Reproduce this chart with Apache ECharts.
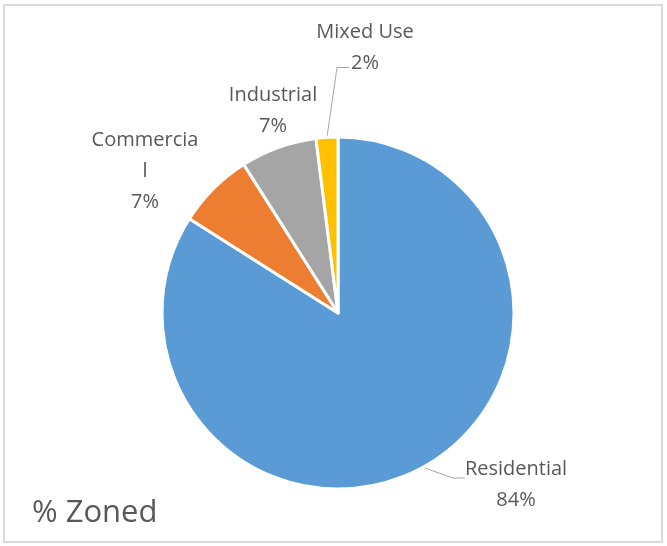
<!DOCTYPE html>
<html>
<head>
<meta charset="utf-8">
<script src="https://cdn.jsdelivr.net/npm/echarts@6/dist/echarts.min.js"></script>
<style>
  html, body { margin: 0; padding: 0; background: #fff; }
  #main { width: 667px; height: 546px; }
</style>
</head>
<body>
<div id="main"></div>
<script>
var categories = ['Residential', 'Commercial', 'Industrial', 'Mixed Use'];
var shares = [84, 7, 7, 2];
var colors = ['#5B9BD5', '#ED7D31', '#A5A5A5', '#FFC000'];
var chartTitle = '% Zoned';

// where Excel put each data label (centre of the text block)
var labelSpots = [
  { x: 516, y: 485, line: true },
  { x: 145, y: 171, line: false },
  { x: 273, y: 111, line: false },
  { x: 365, y: 48, line: true }
];

var myChart = echarts.init(document.getElementById('main'));

myChart.setOption({
  animation: false,
  textStyle: { fontFamily: 'Open Sans' },
  title: {
    text: chartTitle,
    left: 27,
    bottom: 12,
    textStyle: { fontSize: 31, fontWeight: 'normal', color: '#595959' }
  },
  graphic: [{
    type: 'rect',
    shape: { x: 4, y: 5, width: 658, height: 537 },
    style: { fill: 'none', stroke: '#D9D9D9', lineWidth: 2 },
    silent: true
  }],
  series: [{
    type: 'pie',
    center: [338, 313],
    radius: 176,
    startAngle: 90,
    clockwise: true,
    percentPrecision: 0,
    data: categories.map(function (name, i) {
      return {
        name: name,
        value: shares[i],
        itemStyle: { color: colors[i] },
        labelLine: { show: labelSpots[i].line }
      };
    }),
    itemStyle: { borderColor: '#fff', borderWidth: 3 },
    label: {
      show: true,
      position: 'outside',
      fontSize: 20,
      lineHeight: 31,
      color: '#595959',
      align: 'center',
      formatter: function (p) {
        var name = p.name === 'Commercial' ? 'Commercia\nl' : p.name;
        return name + '\n' + p.percent + '%';
      }
    },
    labelLine: {
      show: true,
      length: 10,
      length2: 10,
      lineStyle: { color: '#A6A6A6', width: 1 }
    },
    labelLayout: function (params) {
      var spot = labelSpots[params.dataIndex];
      var r = params.labelRect;
      var out = { x: spot.x, y: spot.y, align: 'center', verticalAlign: 'middle' };
      var start = params.labelLinePoints ? params.labelLinePoints[0] : null;
      if (spot.line && start) {
        if (params.dataIndex === 3) {
          // runs up to the left of the "2%" line
          var yEnd = spot.y + r.height / 4 + 4;
          out.labelLinePoints = [start, [spot.x - 28, yEnd], [spot.x - 16, yEnd]];
        } else {
          var left = spot.x - r.width / 2;
          var yEnd2 = spot.y - 7;
          out.labelLinePoints = [start, [left - 12, yEnd2], [left, yEnd2]];
        }
      }
      return out;
    }
  }]
});
</script>
</body>
</html>
